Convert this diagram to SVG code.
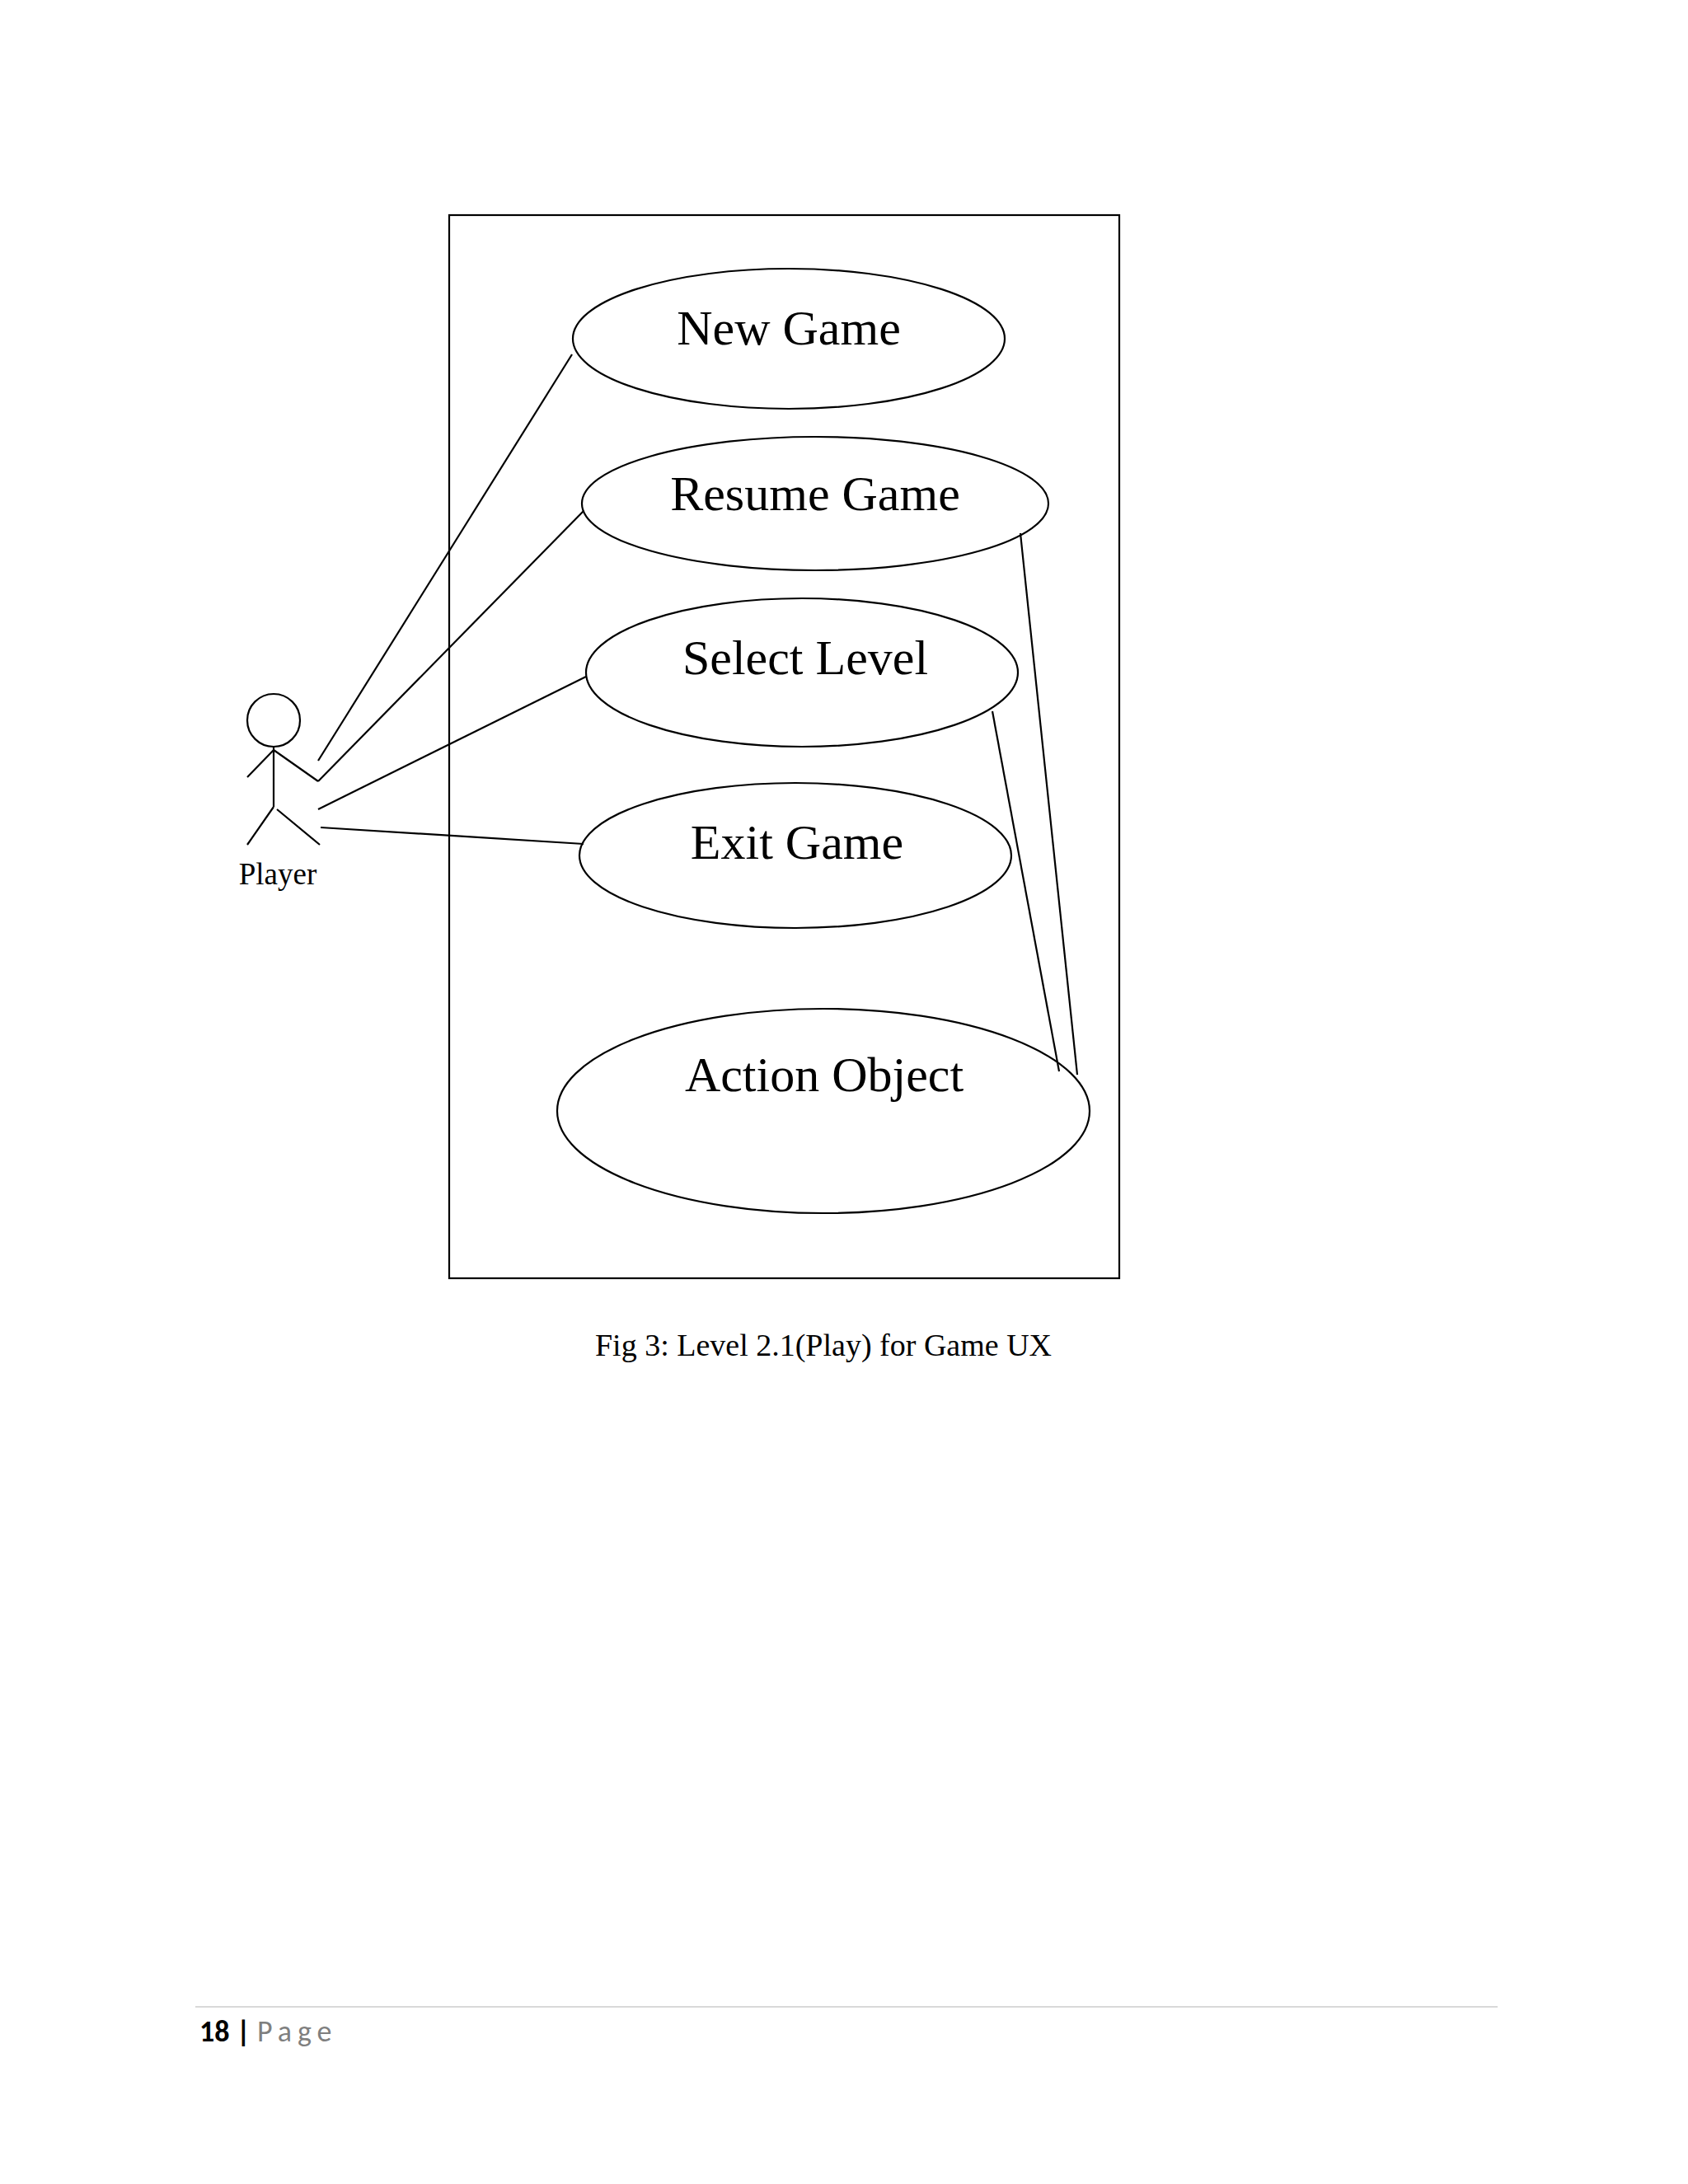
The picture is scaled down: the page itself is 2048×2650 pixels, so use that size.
<svg xmlns="http://www.w3.org/2000/svg" width="2048" height="2650" viewBox="0 0 2048 2650">
<style>
.s{fill:none;stroke:#000;stroke-width:2.2}
.uc{font-family:"Liberation Serif",serif;font-size:60px;text-anchor:middle}
</style>
<rect width="2048" height="2650" fill="#fff"/>
<rect id="system" class="s" x="545" y="261" width="813" height="1290"/>
<g id="actor">
<circle class="s" cx="332" cy="874" r="32"/>
<path class="s" d="M332 906V979M332 910L300 943M332 910L386 948M332 979L300 1025M336 982L388 1025"/>
<text x="337" y="1073" font-family="Liberation Serif,serif" font-size="37" text-anchor="middle">Player</text>
</g>
<g id="newgame"><ellipse class="s" cx="957" cy="411" rx="262" ry="85"/><text class="uc" x="957" y="418">New Game</text></g>
<g id="resume"><ellipse class="s" cx="989" cy="611" rx="283" ry="81"/><text class="uc" x="989" y="619">Resume Game</text></g>
<g id="select"><ellipse class="s" cx="973" cy="816" rx="262" ry="90"/><text class="uc" x="977" y="818">Select Level</text></g>
<g id="exit"><ellipse class="s" cx="965" cy="1038" rx="262" ry="88"/><text class="uc" x="967" y="1042">Exit Game</text></g>
<g id="action"><ellipse class="s" cx="999" cy="1348" rx="323" ry="124"/><text class="uc" x="1000" y="1324">Action Object</text></g>
<g id="connectors" class="s">
<line x1="386" y1="923" x2="694" y2="430"/>
<line x1="386" y1="948" x2="708" y2="620"/>
<line x1="386" y1="982" x2="711" y2="821"/>
<line x1="389" y1="1004" x2="708" y2="1024"/>
<line x1="1238" y1="647" x2="1307" y2="1304"/>
<line x1="1204" y1="863" x2="1285" y2="1300"/>
</g>
<text x="999" y="1645" font-family="Liberation Serif,serif" font-size="38" text-anchor="middle">Fig 3: Level 2.1(Play) for Game UX</text>
<line x1="237" y1="2435" x2="1817" y2="2435" stroke="#d9d9d9" stroke-width="2"/>
<text x="242" y="2477" font-family="Carlito,'Liberation Sans',sans-serif" font-size="36"><tspan font-weight="bold">18 | </tspan><tspan fill="#7f7f7f" letter-spacing="7">Page</tspan></text>
</svg>
